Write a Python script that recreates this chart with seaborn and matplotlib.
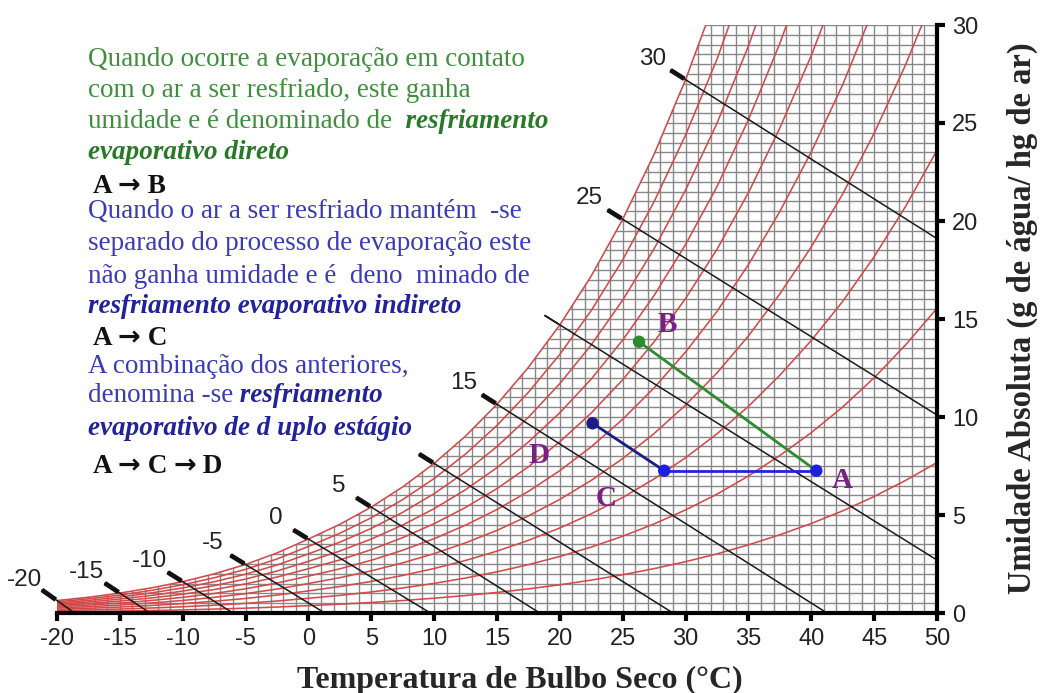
import numpy as np
import pandas as pd
import matplotlib
matplotlib.use("Agg")
import matplotlib.pyplot as plt
from matplotlib.patches import Polygon
import seaborn as sns

# ---------------- data ----------------
# dry-bulb temperature (degC) and saturation vapour pressure (kPa)
TEMP_C = [-20, -17.5, -15, -12.5, -10, -7.5, -5, -2.5, 0, 2.5, 5, 7.5, 10, 12.5, 15,
          17.5, 20, 22.5, 25, 27.5, 30, 32.5, 35, 37.5, 40, 42.5, 45, 47.5, 50]
PSAT_KPA = [0.1033, 0.1306, 0.1653, 0.2083, 0.2599, 0.3240, 0.4018, 0.4967, 0.6112,
            0.7317, 0.8726, 1.0375, 1.2282, 1.4497, 1.7058, 2.0017, 2.3393, 2.7262,
            3.1699, 3.6750, 4.2470, 4.8920, 5.6290, 6.4620, 7.3849, 8.4180, 9.5898,
            10.900, 12.352]
P_ATM = 101.325
RH_LEVELS = [10, 20, 30, 40, 50, 60, 70, 80, 90, 100]

# wet-bulb lines: start temperature and where each line leaves the chart
WB_T = [-20, -15, -10, -5, 0, 5, 10, 15, 20, 25, 30]
WB_LABELS = ["-20", "-15", "-10", "-5", "0", "5", "", "15", "", "25", "30"]
WB_END_T = [-18.6, -12.6, -6.0, 1.3, 9.7, 18.4, 29.0, 41.25, 50, 50, 50]
WB_END_W = [0, 0, 0, 0, 0, 0, 0, 0, 2.7, 10.1, 19.1]

# process points
PT_NAMES = ["A", "B", "C", "D"]
PT_T = [40.4, 26.3, 28.3, 22.6]
PT_W = [7.26, 13.84, 7.26, 9.68]

X_TICKS = list(range(-20, 51, 5))
Y_TICKS = list(range(0, 31, 5))

# ---------------- style ----------------
sns.set_style("white")
plt.rcParams["font.family"] = ["Liberation Sans", "DejaVu Sans"]

W_PX, H_PX = 1043, 693
fig = plt.figure(figsize=(W_PX / 100, H_PX / 100), dpi=100)
ax = fig.add_axes([57 / W_PX, 1 - 613 / H_PX, (937 - 57) / W_PX, (613 - 25) / H_PX])
ax.set_xlim(-20, 50)
ax.set_ylim(0, 30)

RED = "#d24a4a"
GRID = "#888888"

t_arr = np.array(TEMP_C, dtype=float)
p_arr = np.array(PSAT_KPA)
w_sat = 622 * p_arr / (P_ATM - p_arr)

# region below saturation curve -> clip for grid
poly_xy = np.column_stack([np.r_[t_arr, 50, -20], np.r_[w_sat, 0, 0]])
clip_poly = Polygon(poly_xy, closed=True, transform=ax.transData, facecolor="none", edgecolor="none")

vl = ax.vlines(np.arange(-20, 51, 1), 0, 30, colors=GRID, lw=1.0, zorder=1)
hl = ax.hlines(np.arange(0, 30.01, 0.5), -20, 50, colors=GRID, lw=1.0, zorder=1)
vl.set_clip_path(clip_poly)
hl.set_clip_path(clip_poly)

# relative humidity curves
rows = []
for rh in RH_LEVELS:
    pv = rh / 100 * p_arr
    w = 622 * pv / (P_ATM - pv)
    for t, wv in zip(t_arr, w):
        rows.append({"T": t, "w": wv, "RH": rh})
df_rh = pd.DataFrame(rows)
sns.lineplot(data=df_rh, x="T", y="w", hue="RH", palette=[RED] * len(RH_LEVELS),
             legend=False, ax=ax, lw=1.15, estimator=None, sort=False, zorder=2)

# wet-bulb lines
def wsat_at(t):
    return float(np.interp(t, t_arr, w_sat))

for tw, lab, te, we in zip(WB_T, WB_LABELS, WB_END_T, WB_END_W):
    ws = wsat_at(tw)
    slope = (we - ws) / (te - tw)
    ext = 1.2
    t0, w0 = tw - ext, ws - slope * ext
    ax.plot([t0, te], [w0, we], color="#1a1a1a", lw=1.1, zorder=3, clip_on=False)
    ax.plot([t0, tw - 0.1], [w0, ws - slope * 0.1], color="#111111",
            lw=(3.4 if tw != 20 else 1.2), solid_capstyle="butt", zorder=3, clip_on=False)
    if lab:
        ax.annotate(lab, (tw, ws), xytext=(-33, 21), textcoords="offset pixels",
                    ha="center", va="center", fontsize=17.5, color="#222222",
                    annotation_clip=False)

# process lines
pts = dict(zip(PT_NAMES, zip(PT_T, PT_W)))
def seg(a, b, color):
    d = pd.DataFrame({"T": [pts[a][0], pts[b][0]], "w": [pts[a][1], pts[b][1]]})
    sns.lineplot(data=d, x="T", y="w", color=color, lw=2.0, ax=ax, sort=False,
                 estimator=None, zorder=5)

seg("A", "B", "#2e8b2e")
seg("A", "C", "#2323e0")
seg("C", "D", "#1c1c86")
pt_colors = {"A": "#1f1fe0", "B": "#2e8b2e", "C": "#1f1fe0", "D": "#1c1c86"}
df_pts = pd.DataFrame({"T": PT_T, "w": PT_W, "name": PT_NAMES})
sns.scatterplot(data=df_pts, x="T", y="w", hue="name", palette=pt_colors, s=80,
                edgecolor="none", legend=False, ax=ax, zorder=6)

SERIF = ["Liberation Serif", "DejaVu Serif"]
lab_off = {"A": (26, -10), "B": (28, 17), "C": (-58, -28), "D": (-54, -32)}
for n, t, w in zip(PT_NAMES, PT_T, PT_W):
    ax.annotate(n, (t, w), xytext=lab_off[n], textcoords="offset pixels",
                ha="center", va="center", fontsize=21, fontweight="bold",
                color="#7a1f86", family=SERIF, zorder=7)

# axes styling
for s in ["left", "top"]:
    ax.spines[s].set_visible(False)
for s in ["right", "bottom"]:
    ax.spines[s].set_linewidth(3.0)
    ax.spines[s].set_color("black")
    ax.spines[s].set_zorder(8)
ax.yaxis.tick_right()
ax.set_xticks(X_TICKS)
ax.set_yticks(Y_TICKS)
ax.set_xticklabels([str(v) for v in X_TICKS])
ax.set_yticklabels([str(v) for v in Y_TICKS])
ax.tick_params(axis="both", direction="out", length=6, width=3, color="black",
               labelsize=17, labelcolor="#222222", pad=5)
ax.tick_params(axis="x", bottom=True, top=False)
ax.tick_params(axis="y", right=True, left=False)
ax.set_xlabel("")
ax.set_ylabel("")
ax.grid(False)

fig.text(520 / W_PX, 1 - 688 / H_PX, "Temperatura de Bulbo Seco (°C)", ha="center",
         va="baseline", fontsize=23, fontweight="bold", family=SERIF)
fig.text(1022 / W_PX, 1 - 318 / H_PX, "Umidade Absoluta (g de água/ hg de ar)", ha="center",
         va="center", rotation=90, fontsize=23.5, fontweight="bold", family=SERIF)

# ---------------- text block ----------------
renderer = fig.canvas.get_renderer()
inv = fig.transFigure.inverted()
FS = 19.5
G_N = dict(color="#3f8f3f", fontsize=FS, family=SERIF)
G_B = dict(color="#287a28", fontsize=FS, family=SERIF, fontweight="bold", fontstyle="italic")
B_N = dict(color="#3b3bb5", fontsize=FS, family=SERIF)
B_B = dict(color="#22229a", fontsize=FS, family=SERIF, fontweight="bold", fontstyle="italic")
K_B = dict(color="#111111", fontsize=FS, family=SERIF, fontweight="bold")
K_AR = dict(color="#111111", fontsize=FS, family=["DejaVu Sans"], fontweight="bold")

def runs(x_px, y_px, parts):
    x = x_px / W_PX
    y = 1 - y_px / H_PX
    for s, kw in parts:
        t = fig.text(x, y, s, va="baseline", ha="left", **kw)
        bb = t.get_window_extent(renderer=renderer)
        x = inv.transform((bb.x1, bb.y0))[0]

LX = 88
runs(LX, 66, [("Quando ocorre a evaporação em contato", G_N)])
runs(LX, 97, [("com o ar a ser resfriado, este ganha", G_N)])
runs(LX, 128, [("umidade e é denominado de", G_N), ("  resfriamento", G_B)])
runs(LX, 159, [("evaporativo direto", G_B)])
runs(LX + 5, 193, [("A ", K_B), ("→", K_AR), (" B", K_B)])
runs(LX, 218, [("Quando o ar a ser resfriado mantém  -se", B_N)])
runs(LX, 250, [("separado do processo de evaporação este", B_N)])
runs(LX, 283, [("não ganha umidade e é  deno  minado de", B_N)])
runs(LX, 313, [("resfriamento evaporativo indireto", B_B)])
runs(LX + 5, 345, [("A ", K_B), ("→", K_AR), (" C", K_B)])
runs(LX, 373, [("A combinação dos anteriores,", B_N)])
runs(LX, 402, [("denomina -se", B_N), (" resfriamento", B_B)])
runs(LX, 435, [("evaporativo de d uplo estágio", B_B)])
runs(LX + 5, 473, [("A ", K_B), ("→", K_AR), (" C ", K_B), ("→", K_AR), (" D", K_B)])

fig.savefig("out.png", dpi=100)
